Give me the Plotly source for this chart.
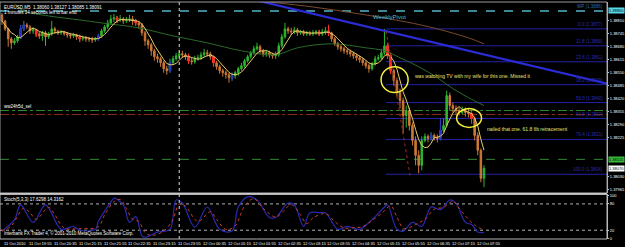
import plotly.graph_objects as go
import pandas as pd

# ---------------- data (EURUSD M5, bars from 11 Oct 2010 19:15) ----------------
first_open = 1.3884
close = [1.3881, 1.3877, 1.3872, 1.3870, 1.3871, 1.3873, 1.3877, 1.3879, 1.3878, 1.3876,
         1.38765, 1.38745, 1.38735, 1.3875, 1.3873, 1.38745, 1.3877, 1.3876, 1.3875, 1.38755,
         1.38745, 1.3874, 1.38735, 1.3874, 1.3873, 1.3872, 1.38725, 1.3872, 1.3872, 1.38715,
         1.3872, 1.38735, 1.3876, 1.3878, 1.3880, 1.3882, 1.38825, 1.38815, 1.3882, 1.3881,
         1.38815, 1.3882, 1.3881, 1.3880, 1.3879, 1.3875, 1.3871, 1.3869, 1.3866, 1.3863,
         1.3862, 1.3860, 1.3857, 1.3856, 1.3860, 1.3862, 1.38635, 1.38645, 1.3864, 1.3863,
         1.3861, 1.38605, 1.3862, 1.38625, 1.3864, 1.3865, 1.38645, 1.3863, 1.3860, 1.3858,
         1.3856, 1.3855, 1.3854, 1.38525, 1.38535, 1.3855, 1.3857, 1.38585, 1.3861, 1.3863,
         1.3865, 1.3867, 1.3868, 1.3866, 1.38645, 1.3865, 1.3864, 1.38635, 1.3864, 1.38685,
         1.3873, 1.3877, 1.3876, 1.38755, 1.38765, 1.3875, 1.38755, 1.38745, 1.3875, 1.38745,
         1.3875, 1.38755, 1.38745, 1.38755, 1.3876, 1.3875, 1.3872, 1.38695, 1.3868, 1.3867,
         1.3866, 1.38655, 1.38645, 1.38635, 1.38625, 1.38615, 1.3860, 1.38585, 1.3857, 1.38595,
         1.3862, 1.38625, 1.3865, 1.38685, 1.38635, 1.3856, 1.3851, 1.3845, 1.3841, 1.38335,
         1.3836, 1.38285, 1.3821, 1.38135, 1.38085, 1.3821, 1.3823, 1.3822, 1.38235, 1.38225,
         1.3822, 1.3826, 1.38285, 1.38435, 1.38385, 1.3837, 1.3836, 1.3835, 1.3836, 1.3835,
         1.38345, 1.3832, 1.38235, 1.3816, 1.3802, 1.3807]
high = [1.3885, 1.38815, 1.38775, 1.3873, 1.38725, 1.3874, 1.3879, 1.3881, 1.3880, 1.3879,
        1.3878, 1.3877, 1.38755, 1.3876, 1.3876, 1.38755, 1.3881, 1.3878, 1.38765, 1.38765,
        1.3876, 1.38755, 1.3875, 1.3875, 1.38745, 1.3874, 1.38735, 1.38735, 1.3873, 1.3873,
        1.3873, 1.38745, 1.3877, 1.3879, 1.38815, 1.3884, 1.38845, 1.38835, 1.3884, 1.3883,
        1.3883, 1.3884, 1.38835, 1.3882, 1.3881, 1.3880, 1.3876, 1.3872, 1.3870, 1.3867,
        1.38645, 1.3863, 1.3861, 1.38585, 1.3862, 1.38635, 1.3865, 1.3866, 1.3866, 1.3865,
        1.38645, 1.38625, 1.38635, 1.3864, 1.38655, 1.3867, 1.38665, 1.38655, 1.38635, 1.3861,
        1.3859, 1.3857, 1.3856, 1.3855, 1.3855, 1.3856, 1.3858, 1.3860, 1.3862, 1.3864,
        1.3866, 1.38685, 1.3870, 1.3869, 1.3867, 1.38665, 1.3866, 1.3865, 1.38655, 1.3870,
        1.38745, 1.3880, 1.3878, 1.38775, 1.3878, 1.38775, 1.38765, 1.38765, 1.3876, 1.3876,
        1.38765, 1.38765, 1.38765, 1.3877, 1.3878, 1.3879, 1.38755, 1.3873, 1.38705, 1.3869,
        1.3868, 1.3867, 1.38665, 1.38655, 1.38645, 1.38635, 1.38625, 1.3861, 1.38595, 1.38605,
        1.38635, 1.3864, 1.3867, 1.3877, 1.3870, 1.3865, 1.3857, 1.38525, 1.3847, 1.38425,
        1.38385, 1.38375, 1.3830, 1.3823, 1.3816, 1.3823, 1.38245, 1.3824, 1.3825, 1.38245,
        1.3824, 1.3832, 1.3832, 1.3846, 1.3845, 1.3840, 1.38385, 1.38375, 1.3838, 1.38375,
        1.3837, 1.3836, 1.3833, 1.3825, 1.3817, 1.38085]
low = [1.3879, 1.3876, 1.3868, 1.3867, 1.3869, 1.3870, 1.3872, 1.3876, 1.3877, 1.38745,
       1.38745, 1.3873, 1.3872, 1.3871, 1.38685, 1.3872, 1.38735, 1.38745, 1.3874, 1.3874,
       1.38735, 1.38725, 1.3872, 1.38725, 1.38715, 1.38705, 1.3871, 1.38705, 1.38705, 1.3870,
       1.38705, 1.3871, 1.38725, 1.3875, 1.3877, 1.3879, 1.38805, 1.3880, 1.38805, 1.38795,
       1.3880, 1.38805, 1.3879, 1.38785, 1.3877, 1.38735, 1.38685, 1.3867, 1.38635, 1.3861,
       1.3860, 1.3858, 1.3855, 1.3854, 1.3855, 1.3859, 1.3861, 1.38625, 1.38625, 1.38615,
       1.38595, 1.3859, 1.38595, 1.3861, 1.38615, 1.3863, 1.3863, 1.38615, 1.3858, 1.38565,
       1.38545, 1.3853, 1.3852, 1.3850, 1.3851, 1.3852, 1.38535, 1.3856, 1.38575, 1.3860,
       1.3862, 1.3864, 1.3866, 1.38645, 1.3863, 1.3863, 1.38625, 1.3862, 1.3862, 1.3863,
       1.38675, 1.3872, 1.38745, 1.3874, 1.38745, 1.38735, 1.3874, 1.38735, 1.38735, 1.38735,
       1.38735, 1.3874, 1.38735, 1.38735, 1.3874, 1.38735, 1.38705, 1.38685, 1.38665, 1.38655,
       1.38645, 1.3864, 1.3863, 1.3862, 1.3861, 1.3860, 1.38585, 1.3857, 1.3855, 1.3856,
       1.38585, 1.3861, 1.38615, 1.3864, 1.3862, 1.38545, 1.38485, 1.3843, 1.3837, 1.38245,
       1.38275, 1.3826, 1.38185, 1.38085, 1.38045, 1.3806, 1.3820, 1.3820, 1.3821, 1.3821,
       1.3820, 1.3821, 1.3825, 1.38275, 1.3836, 1.3835, 1.3834, 1.38335, 1.3834, 1.3833,
       1.38325, 1.38295, 1.3821, 1.38135, 1.3800, 1.37975]
blue_bars = [6, 7, 31, 54, 74, 138, 141]
red_bars = [11, 25, 37, 43, 60, 68, 102, 105, 124, 125, 151]

date_labels = ["11 Oct 2010", "11 Oct 19:55", "11 Oct 20:35", "11 Oct 21:15", "11 Oct 21:55",
               "11 Oct 22:35", "11 Oct 23:15", "11 Oct 23:55", "12 Oct 00:35", "12 Oct 01:15",
               "12 Oct 01:55", "12 Oct 02:35", "12 Oct 03:15", "12 Oct 03:55", "12 Oct 04:35",
               "12 Oct 05:15", "12 Oct 05:55", "12 Oct 06:35", "12 Oct 07:15", "12 Oct 07:55"]
label_step = 8
day_break_bar = 57

green_ma_bar = [4, 7, 15, 25, 32, 44, 55, 66, 77, 88, 95, 106, 117, 123, 128, 134, 140, 145, 150, 155]
green_ma_val = [1.38895, 1.3886, 1.38835, 1.38815, 1.3880, 1.38775, 1.38735, 1.3870, 1.3866, 1.3864,
                1.38675, 1.38695, 1.38675, 1.3866, 1.38625, 1.3858, 1.38525, 1.3847, 1.38425, 1.38385]
brown_ma_bar = [86, 100, 115, 130, 140, 150, 155]
brown_ma_val = [1.38905, 1.3888, 1.38845, 1.38805, 1.3877, 1.38725, 1.38695]

trend_bar = [80, 196]
trend_val = [1.3892, 1.3849]

weekly_pivot = 1.3886
level_green_dd = 1.3836
level_red_dd = 1.3834
level_green_dash = 1.38115

fib_prices = [1.3877, 1.38685, 1.38605, 1.3849, 1.3840, 1.3832, 1.38215, 1.3804]
fib_names = ["0.0", "11.8", "23.6", "38.2", "50.0", "61.8", "76.4", "100.0"]
fib_start_bar = 123.5
fib_diag_bar = [123.5, 131.2]
fib_diag_val = [1.3876, 1.38035]

stoch_k_bar = [0, 4, 6, 10, 14, 19, 23, 25, 30, 31, 35, 36, 39, 41, 43, 45, 46, 50, 54, 56, 58, 62,
               66, 70, 74, 76, 79, 82, 86, 88, 92, 94, 97, 99, 102, 104, 108, 111, 115, 118, 120,
               123, 124, 127, 129, 132, 135, 138, 141, 144, 146, 149, 151, 153, 155]
stoch_k_val = [18, 44, 78, 38, 78, 22, 29, 20, 22, 40, 84, 93, 78, 38, 51, 7, 4, 16, 22, 89, 82, 27,
               73, 22, 18, 73, 96, 89, 49, 49, 82, 78, 29, 60, 60, 60, 22, 29, 22, 38, 51,
               73, 78, 22, 18, 38, 29, 73, 67, 89, 82, 38, 33, 16, 15]
stoch_d_bar = [0, 3, 7, 9, 11, 15, 17, 20, 25, 31, 33, 36, 38, 40, 42, 44, 46, 48, 52, 55, 57, 59,
               63, 67, 69, 72, 75, 78, 81, 84, 88, 90, 93, 96, 98, 100, 104, 107, 110, 113, 116,
               119, 122, 125, 127, 129, 131, 133, 136, 139, 142, 145, 147, 150, 152, 155]
stoch_d_val = [18, 30, 70, 60, 45, 72, 55, 25, 24, 28, 55, 85, 90, 70, 45, 40, 15, 8, 18, 45, 80, 75,
               40, 62, 45, 22, 30, 75, 92, 70, 50, 60, 78, 55, 35, 48, 58, 40, 25, 26, 28,
               42, 58, 75, 50, 25, 26, 33, 45, 68, 72, 86, 70, 45, 32, 20]

header_text = "EURUSD,M5  1.38060 1.38127 1.38085 1.38091"
timer_text = "1 minutes 14 seconds left to bar end"
stoch_text = "Stoch(5,3,3) 17.6298 14.3162"
copyright_text = "Interbank FX Trader 4, \u00a9 2001-2010 MetaQuotes Software Corp."
note1 = "was watching TV with my wife for this one. Missed it"
note2 = "nailed that one. 61.8 fib retracement"

# ---------------- derived ----------------
bars = list(range(len(close)))
open_ = [first_open] + close[:-1]
yellow_ma = pd.Series(close).rolling(5, min_periods=1).mean().tolist()

# ---------------- layout geometry ----------------
W, H = 625, 247
M_T, M_B, M_R = 1, 8, 15
PH = H - M_T - M_B
main_dom = [(PH - 192) / PH, 1.0]
stoch_dom = [0.0, (PH - 193) / PH]
x_range = [-0.64, 194.56]
main_range = [1.37945, 1.38905]
stoch_range = [0, 102.2]

FONT = "Liberation Sans, Arial, sans-serif"
fig = go.Figure()

def candles(idx, inc_col, dec_col):
    return go.Candlestick(
        x=[bars[i] for i in idx], open=[open_[i] for i in idx], high=[high[i] for i in idx],
        low=[low[i] for i in idx], close=[close[i] for i in idx],
        increasing=dict(line=dict(color=inc_col, width=1), fillcolor=inc_col),
        decreasing=dict(line=dict(color=dec_col, width=1), fillcolor=dec_col),
        whiskerwidth=0, showlegend=False, hoverinfo="skip", xaxis="x", yaxis="y")

fig.add_trace(go.Scatter(x=green_ma_bar, y=green_ma_val, mode="lines", line=dict(color="#2a6a2a", width=1, shape="spline"),
                         showlegend=False, xaxis="x", yaxis="y"))
fig.add_trace(go.Scatter(x=brown_ma_bar, y=brown_ma_val, mode="lines", line=dict(color="#7a4a2c", width=1, shape="spline"),
                         showlegend=False, xaxis="x", yaxis="y"))

fig.add_trace(candles(bars, "#2fb52f", "#cc7838"))
fig.add_trace(candles(blue_bars, "#2a30c8", "#2a30c8"))
fig.add_trace(candles(red_bars, "#ff2a2a", "#ff2a2a"))

fig.add_trace(go.Scatter(x=bars, y=yellow_ma, mode="lines", line=dict(color="#e6cc6a", width=1),
                         showlegend=False, xaxis="x", yaxis="y"))
fig.add_trace(go.Scatter(x=trend_bar, y=trend_val, mode="lines", line=dict(color="#2b2bd8", width=2.2),
                         showlegend=False, xaxis="x", yaxis="y"))
fig.add_trace(go.Scatter(x=fib_diag_bar, y=fib_diag_val, mode="lines", line=dict(color="#a02a1a", width=1, dash="dot"),
                         showlegend=False, xaxis="x", yaxis="y"))

fig.add_trace(go.Scatter(x=stoch_k_bar, y=stoch_k_val, mode="lines", line=dict(color="#2a2ab0", width=1.2, shape="spline"),
                         showlegend=False, xaxis="x2", yaxis="y2"))
fig.add_trace(go.Scatter(x=stoch_d_bar, y=stoch_d_val, mode="lines", line=dict(color="#d03a2a", width=1, dash="dot", shape="spline"),
                         showlegend=False, xaxis="x2", yaxis="y2"))

shapes = []
def hline(y, color, dash, width=1, x0=x_range[0], x1=x_range[1], yref="y"):
    shapes.append(dict(type="line", xref="x", yref=yref, x0=x0, x1=x1, y0=y, y1=y,
                       line=dict(color=color, width=width, dash=dash), layer="below"))

hline(weekly_pivot, "#55b4c8", "dash", 1.5)
hline(level_green_dd, "#2f8a2f", "dashdot")
hline(level_red_dd, "#8a2a1c", "dashdot")
hline(level_green_dash, "#35883a", "dash")
for p in fib_prices:
    hline(p, "#2222a8", "solid", 1, x0=fib_start_bar)
hline(80, "#b0b0b0", "dot", 1, yref="y2")
hline(20, "#b0b0b0", "dot", 1, yref="y2")
shapes.append(dict(type="line", xref="x", yref="paper", x0=day_break_bar, x1=day_break_bar, y0=0, y1=1,
                   line=dict(color="#d8d8d8", width=1, dash="dot")))
shapes.append(dict(type="circle", xref="x", yref="y", x0=121.9, x1=130.6, y0=1.3845, y1=1.3858,
                   line=dict(color="#f2f03a", width=1.5)))
shapes.append(dict(type="circle", xref="x", yref="y", x0=146.2, x1=154.2, y0=1.38275, y1=1.3837,
                   line=dict(color="#f2f03a", width=1.5)))
shapes.append(dict(type="rect", xref="paper", yref="paper", x0=0, x1=1, y0=main_dom[0], y1=1,
                   line=dict(color="#9a9a9a", width=1)))
shapes.append(dict(type="rect", xref="paper", yref="paper", x0=0, x1=1, y0=0, y1=stoch_dom[1],
                   line=dict(color="#b4b4b4", width=1)))
shapes.append(dict(type="line", xref="paper", yref="paper", x0=0, x1=1, y0=(main_dom[0] + stoch_dom[1]) / 2,
                   y1=(main_dom[0] + stoch_dom[1]) / 2, line=dict(color="#c8c8c8", width=2)))

ann = []
tiny = dict(family=FONT, size=4, color="#ffffff")
small = dict(family=FONT, size=4.5, color="#ffffff")
for k, lab in enumerate(date_labels):
    ann.append(dict(x=k * label_step, y=0, xref="x2", yref="paper", text=lab, showarrow=False,
                    xanchor="left", yanchor="top", yshift=0, font=tiny))
ann.append(dict(x=0.003, y=1, xref="paper", yref="paper", text=header_text, showarrow=False,
                xanchor="left", yanchor="top", yshift=-1, font=small))
ann.append(dict(x=0.003, y=1, xref="paper", yref="paper", text=timer_text, showarrow=False,
                xanchor="left", yanchor="top", yshift=-6, font=small))
ann.append(dict(x=0.003, y=stoch_dom[1], xref="paper", yref="paper", text=stoch_text, showarrow=False,
                xanchor="left", yanchor="top", yshift=-1, font=small))
ann.append(dict(x=0.003, y=0, xref="paper", yref="paper", text=copyright_text, showarrow=False,
                xanchor="left", yanchor="bottom", yshift=1, font=small))
ann.append(dict(x=0.003, y=level_green_dd, xref="paper", yref="y", text="ww24h5d_sel", showarrow=False,
                xanchor="left", yanchor="bottom", font=small))
ann.append(dict(x=118.7, y=weekly_pivot, xref="x", yref="y", text="WeeklyPivot", showarrow=False,
                xanchor="left", yanchor="top", yshift=-1, font=dict(family=FONT, size=6, color="#4cc0d2")))
ann.append(dict(x=132.3, y=1.38535, xref="x", yref="y", text=note1, showarrow=False,
                xanchor="left", yanchor="middle", font=dict(family=FONT, size=5, color="#e8e070")))
ann.append(dict(x=155.3, y=1.38265, xref="x", yref="y", text=note2, showarrow=False,
                xanchor="left", yanchor="middle", font=dict(family=FONT, size=5, color="#e8e070")))
for p, n in zip(fib_prices, fib_names):
    ann.append(dict(x=0.996, y=p, xref="paper", yref="y", text=f"{n} ({p:.4f})", showarrow=False,
                    xanchor="right", yanchor="bottom", font=dict(family=FONT, size=4.5, color="#2a2ab8")))
ann.append(dict(x=0.996, y=weekly_pivot, xref="paper", yref="y", text=f"WP ({weekly_pivot:.4f})", showarrow=False,
                xanchor="right", yanchor="bottom", font=dict(family=FONT, size=4.5, color="#2a6ab8")))
for val, bg in [(weekly_pivot, "#58d8e8"), (level_green_dash, "#38b838"), (close[-1], "#ffffff")]:
    ann.append(dict(x=1, y=val, xref="paper", yref="y", text=f"{val:.5f}", showarrow=False,
                    xanchor="left", yanchor="middle", xshift=1, bgcolor=bg, borderpad=0,
                    font=dict(family=FONT, size=4, color="#000000")))

main_ticks = [1.3881, 1.38745, 1.3868, 1.38615, 1.3855, 1.38485, 1.3842, 1.38355, 1.3829,
              1.38225, 1.3803, 1.37965]
stoch_ticks = [0, 20, 80, 100]

axis_common = dict(showgrid=False, zeroline=False)
fig.update_layout(
    width=W, height=H, margin=dict(l=0, r=M_R, t=M_T, b=M_B),
    paper_bgcolor="#000000", plot_bgcolor="#000000",
    font=dict(family=FONT, size=4, color="#ffffff"),
    showlegend=False, shapes=shapes, annotations=ann,
    xaxis=dict(domain=[0, 1], anchor="y", range=x_range, showticklabels=False, ticks="",
               rangeslider=dict(visible=False), **axis_common),
    xaxis2=dict(domain=[0, 1], anchor="y2", range=x_range, matches="x", showticklabels=False, ticks="",
                **axis_common),
    yaxis=dict(domain=main_dom, anchor="x", range=main_range, side="right", tickvals=main_ticks,
               ticktext=[f"{v:.5f}" for v in main_ticks], ticks="outside", ticklen=1, tickcolor="#c0c0c0",
               tickfont=dict(family=FONT, size=4, color="#ffffff"), showline=True, linecolor="#c0c0c0",
               **axis_common),
    yaxis2=dict(domain=stoch_dom, anchor="x2", range=stoch_range, side="right", tickvals=stoch_ticks,
                ticks="outside", ticklen=1, tickcolor="#c0c0c0",
                tickfont=dict(family=FONT, size=4, color="#ffffff"), showline=True, linecolor="#c0c0c0",
                **axis_common),
)

fig.write_html("out.html")
